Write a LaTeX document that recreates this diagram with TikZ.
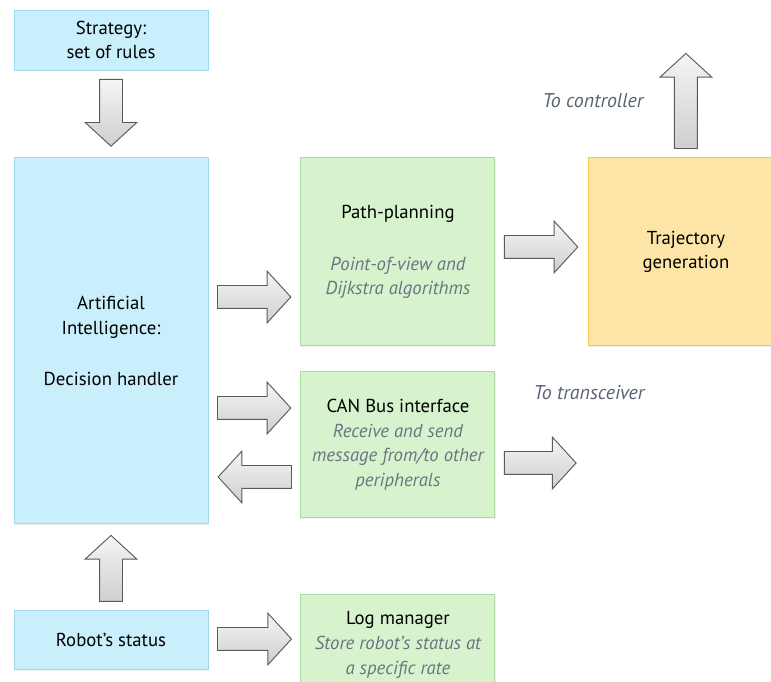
\documentclass[tikz,border=0pt]{standalone}
\usepackage{fontspec}
\setmainfont{PT Sans}
\usepackage{xcolor}
\usepackage{tikz}
\usetikzlibrary{positioning,shapes.arrows,shadows}

\definecolor{bluefill}{HTML}{C9EEFC}
\definecolor{blueedge}{HTML}{A3D9F0}
\definecolor{greenfill}{HTML}{D6F3CE}
\definecolor{greenedge}{HTML}{A9DC9E}
\definecolor{orangefill}{HTML}{FDE5A8}
\definecolor{orangeedge}{HTML}{F2C44E}
\definecolor{notegray}{HTML}{6B7480}
\definecolor{labelgray}{HTML}{5A6275}
\definecolor{arrowedge}{HTML}{5A5A5A}

\tikzset{
  box/.style={draw, line width=0.8pt, minimum width=5.82cm, align=center,
    inner sep=0pt, font=\fontsize{16}{21}\selectfont,
    drop shadow={opacity=0.12, shadow xshift=0.6pt, shadow yshift=-1.2pt}},
  bluebox/.style={box, fill=bluefill, draw=blueedge},
  greenbox/.style={box, fill=greenfill, draw=greenedge},
  orangebox/.style={box, fill=orangefill, draw=orangeedge},
  outlabel/.style={text=labelgray, font=\fontsize{17}{21}\selectfont\itshape},
  fat/.style={single arrow, draw=arrowedge, line width=0.8pt,
    top color=gray!8, bottom color=gray!38, inner xsep=0pt, inner ysep=0.33cm,
    outer sep=0.27cm, single arrow head extend=0.43cm,
    single arrow tip angle=95, sloped, allow upside down, pos=0, anchor=tail},
}

\begin{document}
\begin{tikzpicture}[x=0.03cm, y=-0.03cm]
  \useasboundingbox (0,0) rectangle (771,682);

  \node[bluebox, minimum height=1.8cm] (strat) at (111,40)
    {Strategy:\\set of rules};
  \node[bluebox, minimum height=10.98cm, below=2.61cm of strat] (ai)
    {Artificial\\Intelligence:\\[23pt]Decision handler};
  \node[bluebox, minimum height=1.77cm, below=2.58cm of ai] (robot)
    {Robot's status};

  \node[greenbox, minimum height=5.64cm, right=2.76cm of ai.north east,
    anchor=north west] (path)
    {Path-planning\\[23pt]{\color{notegray}\itshape Point-of-view and}\\
     {\color{notegray}\itshape Dijkstra algorithms}};
  \node[greenbox, minimum height=4.38cm, below=0.75cm of path] (can)
    {CAN Bus interface\\{\color{notegray}\itshape Receive and send}\\
     {\color{notegray}\itshape message from/to other}\\
     {\color{notegray}\itshape peripherals}};
  \node[greenbox, minimum height=3cm, below=2.28cm of can] (log)
    {Log manager\\{\color{notegray}\itshape Store robot's status at}\\
     {\color{notegray}\itshape a specific rate}};

  \node[orangebox, minimum height=5.64cm, right=2.79cm of path.north east,
    anchor=north west] (traj)
    {Trajectory\\generation};

  \coordinate (ctrl) at (traj.north |- 0,43);
  \coordinate (transc) at (traj.west |- 0,463);
  \node[outlabel] (tolabel) at (593,101) {To controller};
  \node[outlabel] (txlabel) at (589,393) {To transceiver};

  % block arrows
  \path (strat.south) -- (ai.north) node[fat, minimum height=2.0cm] {};
  \path (robot.north) -- (ai.south) node[fat, minimum height=1.98cm] {};
  \path (ai.east |- 0,297) -- (path.west |- 0,297)
    node[fat, minimum height=2.2cm] {};
  \path (path.east |- 0,247) -- (traj.west |- 0,247)
    node[fat, minimum height=2.2cm] {};
  \path (traj.north) -- (ctrl) node[fat, minimum height=2.85cm] {};
  \path (ai.east |- 0,408) -- (can.west |- 0,408)
    node[fat, minimum height=2.2cm] {};
  \path (can.west |- 0,477) -- (ai.east |- 0,477)
    node[fat, minimum height=2.2cm] {};
  \path (can.east |- 0,463) -- (transc)
    node[fat, minimum height=2.15cm] {};
  \path (robot.east |- 0,639) -- (log.west |- 0,639)
    node[fat, minimum height=2.22cm] {};

\end{tikzpicture}
\end{document}
